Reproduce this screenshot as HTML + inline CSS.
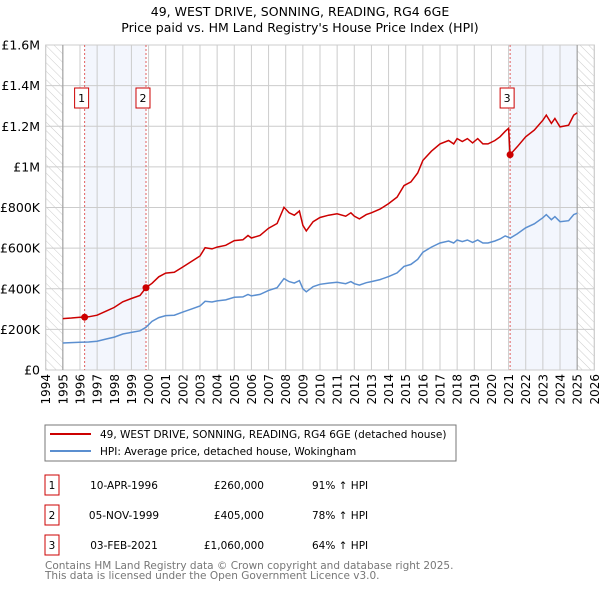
<!DOCTYPE html>
<html><head><meta charset="utf-8"><style>
body{margin:0;background:#fff;font-family:"DejaVu Sans","Liberation Sans",sans-serif;}
#wrap{position:relative;width:600px;height:590px;overflow:hidden}
</style></head><body>
<div id="wrap">
<svg id="svg" width="600" height="590" xmlns="http://www.w3.org/2000/svg" style="font-family:'DejaVu Sans','Liberation Sans',sans-serif">
<defs><pattern id="hatch" width="6" height="6" patternUnits="userSpaceOnUse" patternTransform="rotate(-45)"><line x1="0" y1="0" x2="0" y2="6" stroke="#ccc" stroke-width="1"/></pattern></defs>
<text x="300" y="16" text-anchor="middle" font-size="12.5" fill="#000">49, WEST DRIVE, SONNING, READING, RG4 6GE</text>
<text x="300" y="32" text-anchor="middle" font-size="12.5" fill="#000">Price paid vs. HM Land Registry's House Price Index (HPI)</text>
<g id="plot"></g>
<rect x="45" y="425" width="411" height="36" fill="#fff" stroke="#777"/>
<line x1="50" y1="434" x2="91" y2="434" stroke="#cc0000" stroke-width="2"/>
<text x="100" y="438" font-size="10.5">49, WEST DRIVE, SONNING, READING, RG4 6GE (detached house)</text>
<line x1="50" y1="451" x2="91" y2="451" stroke="#5b8fd0" stroke-width="2"/>
<text x="100" y="455" font-size="10.5">HPI: Average price, detached house, Wokingham</text>
<g id="table" font-size="10.5"></g>
<text x="45" y="569" font-size="10.5" fill="#777">Contains HM Land Registry data © Crown copyright and database right 2025.</text>
<text x="45" y="579" font-size="10.5" fill="#777">This data is licensed under the Open Government Licence v3.0.</text>
</svg>
</div>
<script>
const hpiYears=[1995.0,1995.5,1996.0,1996.5,1997.0,1997.5,1998.0,1998.5,1999.0,1999.5,1999.85,2000.2,2000.6,2001.0,2001.5,2002.0,2002.5,2003.0,2003.3,2003.7,2004.0,2004.5,2005.0,2005.5,2005.8,2006.0,2006.5,2007.0,2007.5,2007.9,2008.2,2008.5,2008.8,2009.0,2009.2,2009.6,2010.0,2010.5,2011.0,2011.5,2011.8,2012.0,2012.3,2012.7,2013.0,2013.5,2014.0,2014.5,2014.9,2015.3,2015.7,2016.0,2016.5,2017.0,2017.5,2017.8,2018.0,2018.3,2018.6,2018.9,2019.2,2019.5,2019.8,2020.2,2020.5,2020.8,2021.1,2021.5,2022.0,2022.5,2023.0,2023.2,2023.5,2023.7,2024.0,2024.5,2024.8,2025.0];
const hpiValues=[133,135,137,138,142,152,162,177,185,193,210,240,258,268,270,285,300,315,338,335,340,345,358,360,372,365,372,392,405,450,435,428,440,400,385,410,422,428,432,425,435,425,418,430,435,445,460,478,510,520,545,580,605,625,635,625,640,632,640,628,640,625,625,635,645,660,650,670,700,720,750,765,740,755,730,735,765,772];
const propYears=[1995.0,1995.5,1996.0,1996.27,1996.5,1997.0,1997.5,1998.0,1998.5,1999.0,1999.5,1999.85,2000.2,2000.6,2001.0,2001.5,2002.0,2002.5,2003.0,2003.3,2003.7,2004.0,2004.5,2005.0,2005.5,2005.8,2006.0,2006.5,2007.0,2007.5,2007.9,2008.2,2008.5,2008.8,2009.0,2009.2,2009.6,2010.0,2010.5,2011.0,2011.5,2011.8,2012.0,2012.3,2012.7,2013.0,2013.5,2014.0,2014.5,2014.9,2015.3,2015.7,2016.0,2016.5,2017.0,2017.5,2017.8,2018.0,2018.3,2018.6,2018.9,2019.2,2019.5,2019.8,2020.2,2020.5,2020.8,2021.0,2021.09,2021.5,2022.0,2022.5,2023.0,2023.2,2023.5,2023.7,2024.0,2024.5,2024.8,2025.0];
const propValues=[253,256,260,260,262,270,289,308,336,352,367,405,427,459,477,481,507,534,561,602,596,605,614,637,641,662,650,662,698,721,801,774,762,783,712,685,730,751,762,769,757,774,757,744,765,774,792,819,851,908,926,970,1032,1077,1113,1130,1113,1139,1125,1139,1118,1139,1113,1113,1130,1148,1175,1190,1060,1099,1148,1181,1230,1255,1214,1238,1197,1205,1255,1266];
const saleYears=[1996.27,1999.85,2021.09];
const saleValues=[260,405,1060];
const saleLabels=["1","2","3"];
const saleDates=["10-APR-1996","05-NOV-1999","03-FEB-2021"];
const salePrices=["£260,000","£405,000","£1,060,000"];
const salePcts=["91% ↑ HPI","78% ↑ HPI","64% ↑ HPI"];
const yTicks=[0,200,400,600,800,1000,1200,1400,1600];
const yTickLabels=["£0","£200K","£400K","£600K","£800K","£1M","£1.2M","£1.4M","£1.6M"];
const xMin=1994,xMax=2026,yMax=1600,dataStart=1995,dataEnd=2025;

const L=45.7,R=594.3,T=45,B=370;
const X=v=>L+(v-xMin)/(xMax-xMin)*(R-L);
const Y=v=>B-v/yMax*(B-T);
const NS="http://www.w3.org/2000/svg";
const plot=document.getElementById('plot');
function mk(tag,attrs,parent){const e=document.createElementNS(NS,tag);for(const k in attrs)e.setAttribute(k,attrs[k]);(parent||plot).appendChild(e);return e;}

let e;
e=mk('rect',{x:L,y:T,width:R-L,height:B-T,fill:'#fff',stroke:'#ccc'});


e=mk('rect',{x:L,y:T,width:X(dataStart)-L,height:B-T,fill:'url(#hatch)'});


e=mk('rect',{x:X(dataEnd),y:T,width:R-X(dataEnd),height:B-T,fill:'url(#hatch)'});


e=mk('rect',{x:X(saleYears[0]),y:T,width:X(saleYears[1])-X(saleYears[0]),height:B-T,fill:'#f0f4fd',opacity:0.8});


e=mk('rect',{x:X(saleYears[2]),y:T,width:X(dataEnd)-X(saleYears[2]),height:B-T,fill:'#f0f4fd',opacity:0.8});


for(let yr=xMin;yr<=xMax;yr++){
  e=mk('line',{x1:X(yr),x2:X(yr),y1:T,y2:B,stroke:'#ccc','stroke-width':1});
  
  
  const t=mk('text',{x:0,y:0,'font-size':12,'text-anchor':'end',transform:`translate(${X(yr)+4.5},${B+4}) rotate(-90)`});
  t.textContent=yr;
  
  
}
yTicks.forEach((v,i)=>{
  e=mk('line',{x1:L,x2:R,y1:Y(v),y2:Y(v),stroke:'#ccc','stroke-width':1});
  
  
  const t=mk('text',{x:40,y:Y(v)+4.5,'font-size':12.5,'text-anchor':'end'});
  t.textContent=yTickLabels[i];
  
  
});
e=mk('line',{x1:X(dataStart),x2:X(dataStart),y1:T,y2:B,stroke:'#999'});


e=mk('line',{x1:X(dataEnd),x2:X(dataEnd),y1:T,y2:B,stroke:'#999'});


saleYears.forEach((s,i)=>{
  e=mk('line',{x1:X(s),x2:X(s),y1:T,y2:B,stroke:'#e06060','stroke-dasharray':'2,2'});
  
  
});
function pathOf(xs,vs){return xs.map((x,i)=>(i?'L':'M')+X(x).toFixed(1)+','+Y(vs[i]).toFixed(1)).join('');}
e=mk('path',{d:pathOf(hpiYears,hpiValues),fill:'none',stroke:'#5b8fd0','stroke-width':1.5});


e=mk('path',{d:pathOf(propYears,propValues),fill:'none',stroke:'#cc0000','stroke-width':1.5});


saleYears.forEach((s,i)=>{
  e=mk('circle',{cx:X(s),cy:Y(saleValues[i]),r:3.5,fill:'#cc0000'});
  
  
  const g=mk('g',{});
  
  
  mk('rect',{x:X(s)-10,y:88,width:14,height:20,fill:'#fff',stroke:'#cc0000'},g);
  const t=mk('text',{x:X(s)-3,y:102,'font-size':11,'text-anchor':'middle'},g);
  t.textContent=saleLabels[i];
});
const tb=document.getElementById('table');
saleLabels.forEach((lab,i)=>{
  const y0=475+i*30;
  const g=mk('g',{},tb);
  
  
  mk('rect',{x:45,y:y0,width:14,height:20,fill:'#fff',stroke:'#cc0000'},g);
  let t=mk('text',{x:52,y:y0+14,'text-anchor':'middle'},g);t.textContent=lab;
  t=mk('text',{x:124,y:y0+14,'text-anchor':'middle'},g);t.textContent=saleDates[i];
  t=mk('text',{x:264,y:y0+14,'text-anchor':'end'},g);t.textContent=salePrices[i];
  t=mk('text',{x:312,y:y0+14},g);t.textContent=salePcts[i];
});
</script>
</body></html>
